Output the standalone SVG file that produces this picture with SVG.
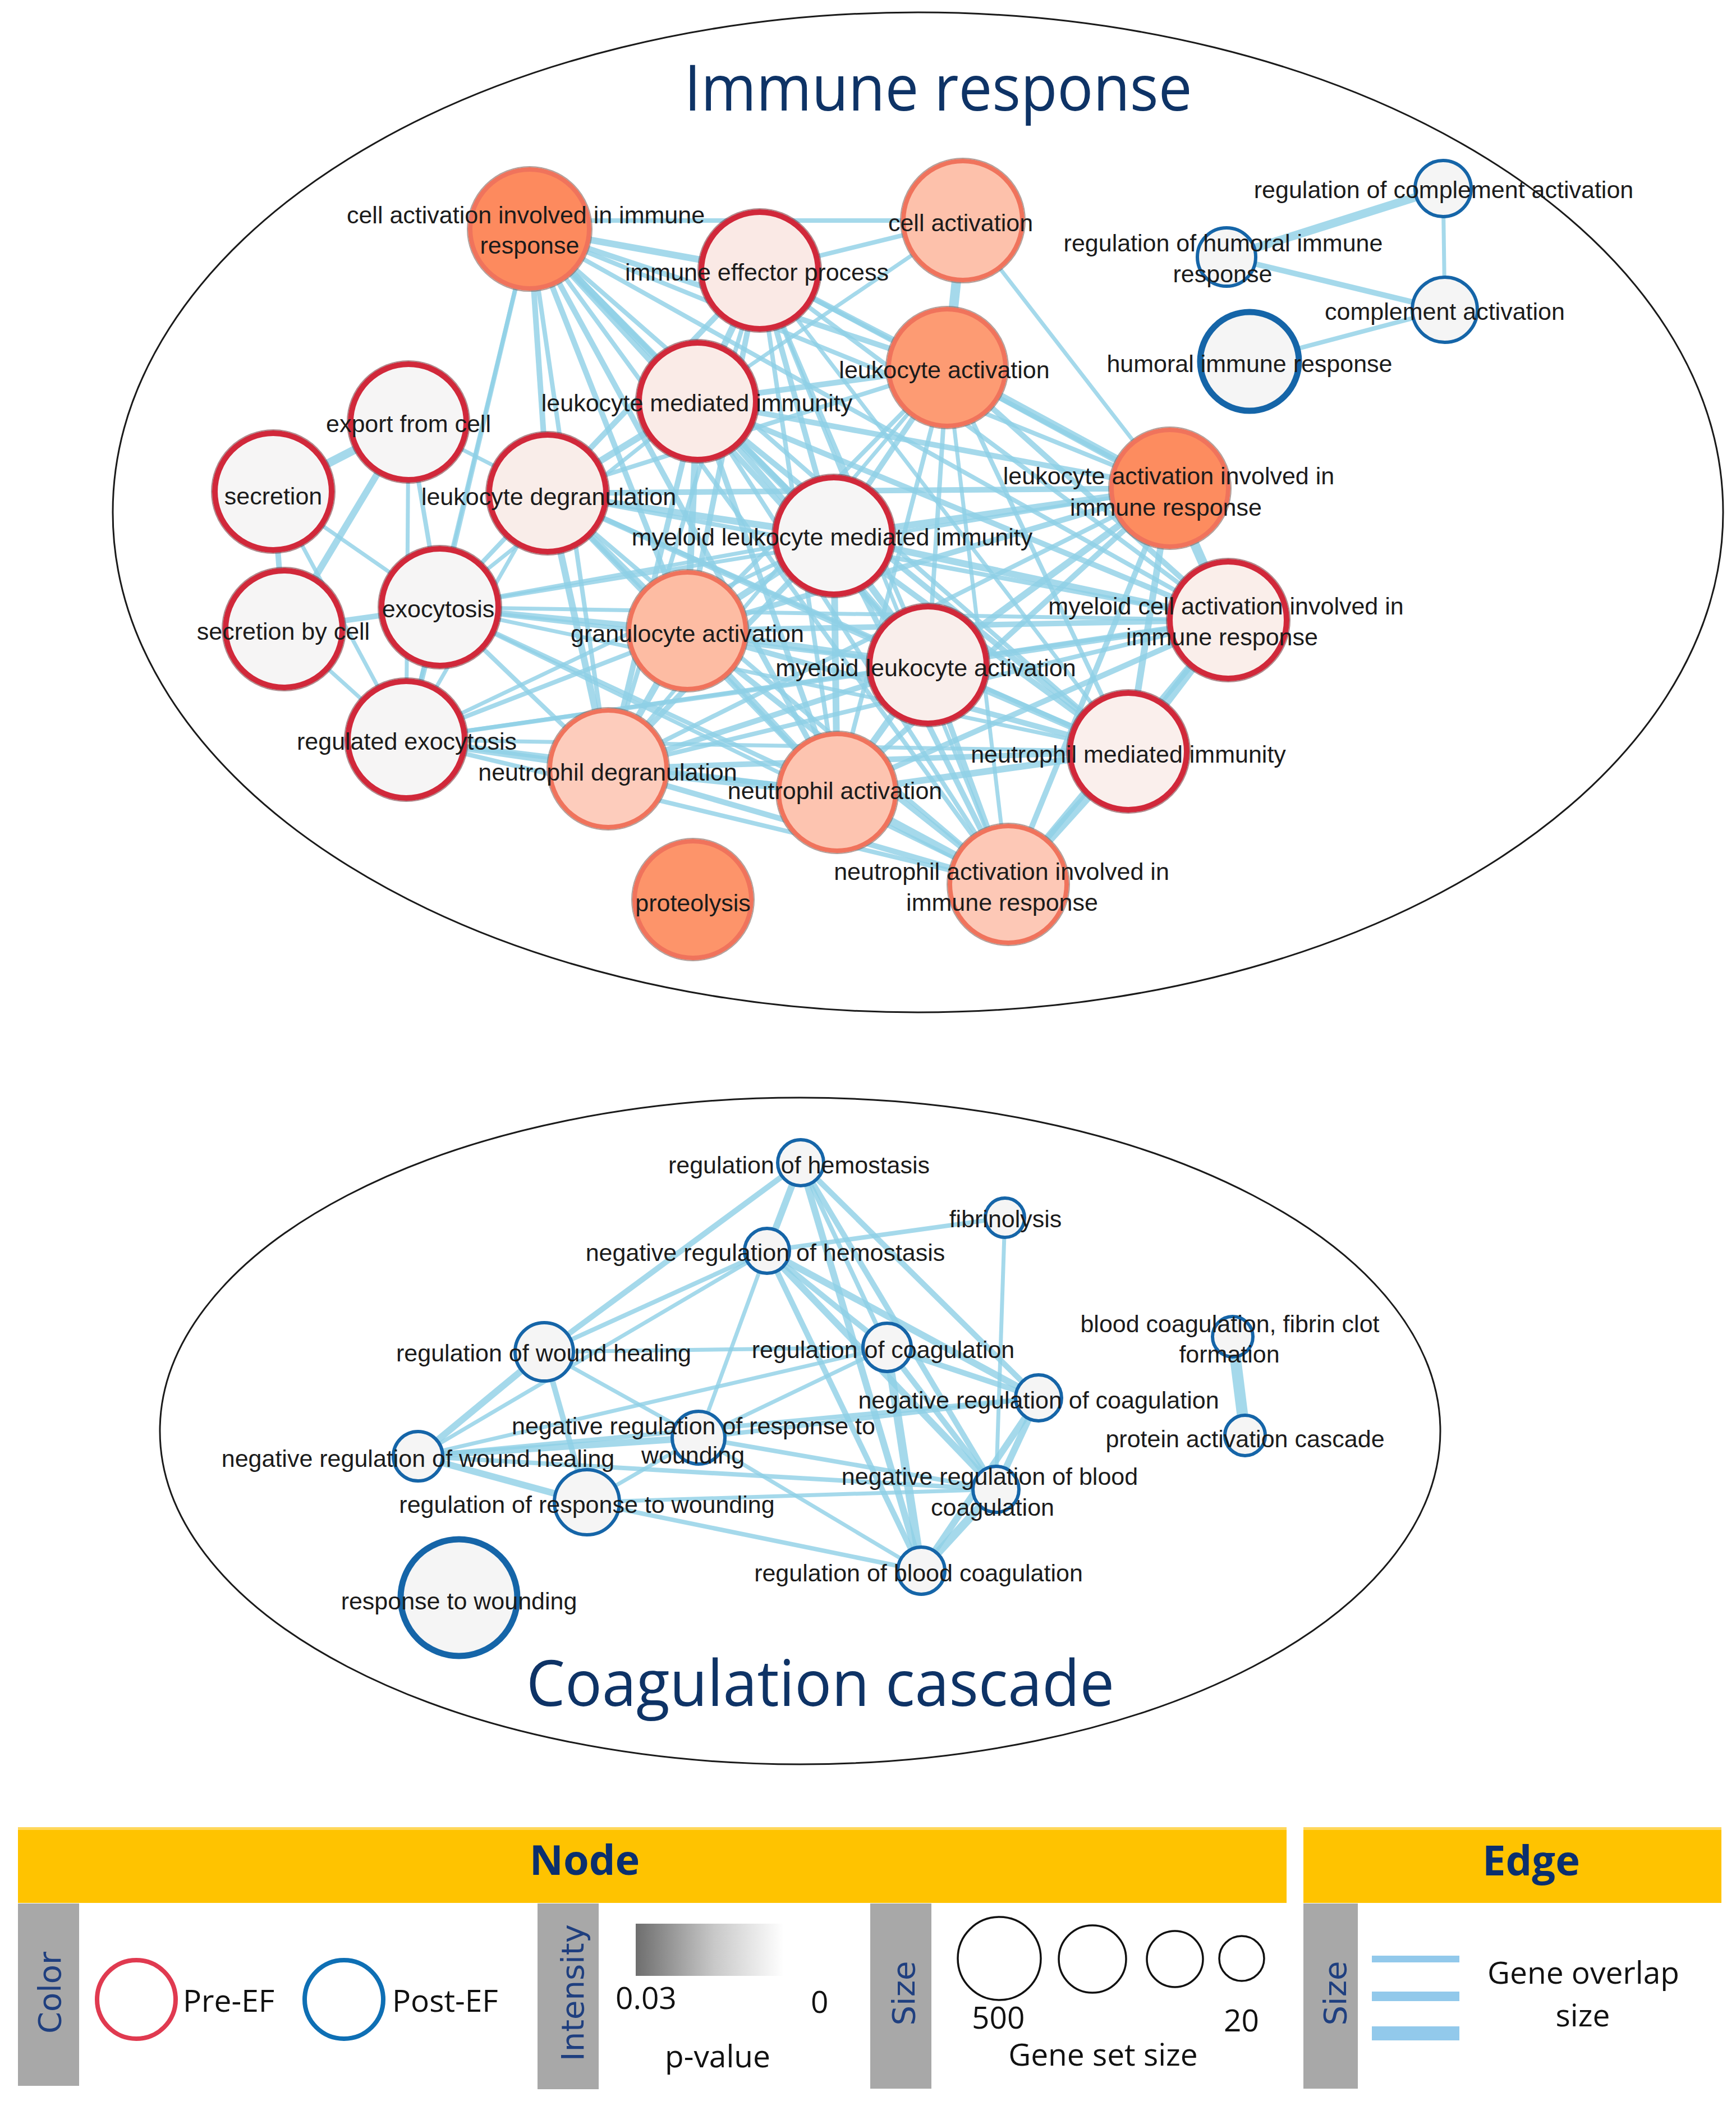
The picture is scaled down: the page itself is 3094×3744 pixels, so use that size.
<svg xmlns="http://www.w3.org/2000/svg" width="3094" height="3744" viewBox="0 0 3094 3744">
<style>
.bg{fill:#ffffff}
.grp{fill:none;stroke:#1a1a1a;stroke-width:3}
.title{font-family:"Open Sans","Liberation Sans",sans-serif;font-size:114px;fill:#0e3366;text-anchor:middle}
.lb{font-family:"Liberation Sans",Arial,sans-serif;font-size:43px;fill:#1b1b1b;text-anchor:middle}
.ed line{stroke:#8fd0e6;stroke-opacity:0.8;stroke-linecap:butt}
.w4{stroke-width:6}.w5{stroke-width:7}.w6{stroke-width:8}.w8{stroke-width:10}.w10{stroke-width:12}.w12{stroke-width:15}.w14{stroke-width:17}.w16{stroke-width:20}
.pre{stroke:#d1283a;stroke-width:10}
.org{stroke:#f0735c;stroke-width:8}
.post{stroke:#1565a8;stroke-width:6;fill:#f5f5f5}
.postb{stroke:#1565a8;stroke-width:11;fill:#f5f5f5}
.olr{fill:none;stroke:#6b2a30;stroke-width:2;stroke-opacity:0.55}
.olo{fill:none;stroke:#7d6058;stroke-width:2;stroke-opacity:0.6}
.yb{fill:#ffc300}
.yt{fill:#ffd75a}
.gb{fill:#a8a8a8}
.lh{font-family:"Open Sans","Liberation Sans",sans-serif;font-weight:bold;font-size:74px;fill:#0b2f6e;text-anchor:middle}
.vt{font-family:"DejaVu Sans",Verdana,sans-serif;font-size:56px;fill:#1f3f7f;text-anchor:middle}
.lt{font-family:"Open Sans","Liberation Sans",sans-serif;font-size:55px;fill:#111111}
.sz{fill:none;stroke:#111111;stroke-width:3.5}
.eb{fill:#92c9eb}
</style>
<defs>
<linearGradient id="pv" x1="0" y1="0" x2="1" y2="0">
<stop offset="0" stop-color="#6e6e6e"/>
<stop offset="0.45" stop-color="#c8c8c8"/>
<stop offset="0.85" stop-color="#ffffff"/>
</linearGradient>
</defs>
<rect class="bg" x="0" y="0" width="3094" height="3744"/>

<g id="groups">
<ellipse class="grp" cx="1636" cy="913" rx="1435" ry="891"/>
<ellipse class="grp" cx="1426" cy="2550" rx="1141" ry="594"/>
<text class="title" x="1672" y="197" textLength="905" lengthAdjust="spacingAndGlyphs">Immune response</text>
<text class="title" x="1462" y="3040" textLength="1048" lengthAdjust="spacingAndGlyphs">Coagulation cascade</text>
</g>

<g id="connectors" class="ed">
<line class="w10" x1="944" y1="408" x2="1354" y2="482"/>
<line class="w8" x1="944" y1="408" x2="1688" y2="655"/>
<line class="w10" x1="944" y1="408" x2="1243" y2="715"/>
<line class="w8" x1="944" y1="408" x2="976" y2="879"/>
<line class="w8" x1="944" y1="408" x2="1486" y2="955"/>
<line class="w6" x1="944" y1="408" x2="2085" y2="870"/>
<line class="w8" x1="944" y1="408" x2="1225" y2="1124"/>
<line class="w8" x1="944" y1="408" x2="1654" y2="1185"/>
<line class="w6" x1="944" y1="408" x2="2189" y2="1105"/>
<line class="w6" x1="944" y1="408" x2="1084" y2="1370"/>
<line class="w8" x1="944" y1="408" x2="1492" y2="1412"/>
<line class="w6" x1="944" y1="408" x2="2011" y2="1339"/>
<line class="w6" x1="944" y1="408" x2="1797" y2="1576"/>
<line class="w6" x1="944" y1="408" x2="784" y2="1082"/>
<line class="w5" x1="944" y1="408" x2="724" y2="1318"/>
<line class="w6" x1="944" y1="393" x2="1716" y2="393"/>
<line class="w8" x1="1354" y1="482" x2="1688" y2="655"/>
<line class="w10" x1="1354" y1="482" x2="1243" y2="715"/>
<line class="w8" x1="1354" y1="482" x2="976" y2="879"/>
<line class="w8" x1="1354" y1="482" x2="1486" y2="955"/>
<line class="w6" x1="1354" y1="482" x2="2085" y2="870"/>
<line class="w8" x1="1354" y1="482" x2="1225" y2="1124"/>
<line class="w6" x1="1354" y1="482" x2="1654" y2="1185"/>
<line class="w6" x1="1354" y1="482" x2="2189" y2="1105"/>
<line class="w6" x1="1354" y1="482" x2="1084" y2="1370"/>
<line class="w6" x1="1354" y1="482" x2="1492" y2="1412"/>
<line class="w5" x1="1354" y1="482" x2="2011" y2="1339"/>
<line class="w5" x1="1354" y1="482" x2="1797" y2="1576"/>
<line class="w6" x1="1354" y1="482" x2="1716" y2="393"/>
<line class="w14" x1="1716" y1="393" x2="1688" y2="655"/>
<line class="w5" x1="1716" y1="393" x2="2085" y2="870"/>
<line class="w5" x1="1716" y1="393" x2="1243" y2="715"/>
<line class="w8" x1="1688" y1="655" x2="1243" y2="715"/>
<line class="w6" x1="1688" y1="655" x2="976" y2="879"/>
<line class="w8" x1="1688" y1="655" x2="1486" y2="955"/>
<line class="w12" x1="1688" y1="655" x2="2085" y2="870"/>
<line class="w6" x1="1688" y1="655" x2="1225" y2="1124"/>
<line class="w6" x1="1688" y1="655" x2="1654" y2="1185"/>
<line class="w8" x1="1688" y1="655" x2="2189" y2="1105"/>
<line class="w5" x1="1688" y1="655" x2="1084" y2="1370"/>
<line class="w6" x1="1688" y1="655" x2="1492" y2="1412"/>
<line class="w6" x1="1688" y1="655" x2="2011" y2="1339"/>
<line class="w5" x1="1688" y1="655" x2="1797" y2="1576"/>
<line class="w10" x1="1243" y1="715" x2="976" y2="879"/>
<line class="w10" x1="1243" y1="715" x2="1486" y2="955"/>
<line class="w8" x1="1243" y1="715" x2="2085" y2="870"/>
<line class="w10" x1="1243" y1="715" x2="1225" y2="1124"/>
<line class="w8" x1="1243" y1="715" x2="1654" y2="1185"/>
<line class="w8" x1="1243" y1="715" x2="2189" y2="1105"/>
<line class="w8" x1="1243" y1="715" x2="1084" y2="1370"/>
<line class="w8" x1="1243" y1="715" x2="1492" y2="1412"/>
<line class="w8" x1="1243" y1="715" x2="2011" y2="1339"/>
<line class="w6" x1="1243" y1="715" x2="1797" y2="1576"/>
<line class="w5" x1="1243" y1="715" x2="784" y2="1082"/>
<line class="w10" x1="976" y1="879" x2="1486" y2="955"/>
<line class="w8" x1="976" y1="879" x2="2085" y2="870"/>
<line class="w10" x1="976" y1="879" x2="1225" y2="1124"/>
<line class="w8" x1="976" y1="879" x2="1654" y2="1185"/>
<line class="w6" x1="976" y1="879" x2="2189" y2="1105"/>
<line class="w10" x1="976" y1="879" x2="1084" y2="1370"/>
<line class="w8" x1="976" y1="879" x2="1492" y2="1412"/>
<line class="w6" x1="976" y1="879" x2="2011" y2="1339"/>
<line class="w6" x1="976" y1="879" x2="1797" y2="1576"/>
<line class="w6" x1="976" y1="879" x2="784" y2="1082"/>
<line class="w5" x1="976" y1="879" x2="724" y2="1318"/>
<line class="w5" x1="976" y1="879" x2="728" y2="752"/>
<line class="w10" x1="1486" y1="955" x2="2085" y2="870"/>
<line class="w10" x1="1486" y1="955" x2="1225" y2="1124"/>
<line class="w10" x1="1486" y1="955" x2="1654" y2="1185"/>
<line class="w10" x1="1486" y1="955" x2="2189" y2="1105"/>
<line class="w8" x1="1486" y1="955" x2="1084" y2="1370"/>
<line class="w10" x1="1486" y1="955" x2="1492" y2="1412"/>
<line class="w8" x1="1486" y1="955" x2="2011" y2="1339"/>
<line class="w8" x1="1486" y1="955" x2="1797" y2="1576"/>
<line class="w5" x1="1486" y1="955" x2="784" y2="1082"/>
<line class="w8" x1="2085" y1="870" x2="1225" y2="1124"/>
<line class="w10" x1="2085" y1="870" x2="1654" y2="1185"/>
<line class="w14" x1="2085" y1="870" x2="2189" y2="1105"/>
<line class="w6" x1="2085" y1="870" x2="1084" y2="1370"/>
<line class="w8" x1="2085" y1="870" x2="1492" y2="1412"/>
<line class="w10" x1="2085" y1="870" x2="2011" y2="1339"/>
<line class="w8" x1="2085" y1="870" x2="1797" y2="1576"/>
<line class="w5" x1="2085" y1="870" x2="784" y2="1082"/>
<line class="w10" x1="1225" y1="1124" x2="1654" y2="1185"/>
<line class="w8" x1="1225" y1="1124" x2="2189" y2="1105"/>
<line class="w10" x1="1225" y1="1124" x2="1084" y2="1370"/>
<line class="w10" x1="1225" y1="1124" x2="1492" y2="1412"/>
<line class="w8" x1="1225" y1="1124" x2="2011" y2="1339"/>
<line class="w8" x1="1225" y1="1124" x2="1797" y2="1576"/>
<line class="w8" x1="1225" y1="1124" x2="784" y2="1082"/>
<line class="w6" x1="1225" y1="1124" x2="724" y2="1318"/>
<line class="w10" x1="1654" y1="1185" x2="2189" y2="1105"/>
<line class="w8" x1="1654" y1="1185" x2="1084" y2="1370"/>
<line class="w10" x1="1654" y1="1185" x2="1492" y2="1412"/>
<line class="w10" x1="1654" y1="1185" x2="2011" y2="1339"/>
<line class="w8" x1="1654" y1="1185" x2="1797" y2="1576"/>
<line class="w6" x1="1654" y1="1185" x2="784" y2="1082"/>
<line class="w6" x1="1654" y1="1185" x2="724" y2="1318"/>
<line class="w6" x1="2189" y1="1105" x2="1084" y2="1370"/>
<line class="w8" x1="2189" y1="1105" x2="1492" y2="1412"/>
<line class="w14" x1="2189" y1="1105" x2="2011" y2="1339"/>
<line class="w10" x1="2189" y1="1105" x2="1797" y2="1576"/>
<line class="w5" x1="2189" y1="1105" x2="784" y2="1082"/>
<line class="w12" x1="1084" y1="1370" x2="1492" y2="1412"/>
<line class="w8" x1="1084" y1="1370" x2="2011" y2="1339"/>
<line class="w8" x1="1084" y1="1370" x2="1797" y2="1576"/>
<line class="w6" x1="1084" y1="1370" x2="784" y2="1082"/>
<line class="w10" x1="1084" y1="1370" x2="724" y2="1318"/>
<line class="w10" x1="1492" y1="1412" x2="2011" y2="1339"/>
<line class="w12" x1="1492" y1="1412" x2="1797" y2="1576"/>
<line class="w6" x1="1492" y1="1412" x2="784" y2="1082"/>
<line class="w8" x1="1492" y1="1412" x2="724" y2="1318"/>
<line class="w14" x1="2011" y1="1339" x2="1797" y2="1576"/>
<line class="w5" x1="2011" y1="1339" x2="724" y2="1318"/>
<line class="w6" x1="1797" y1="1576" x2="724" y2="1318"/>
<line class="w5" x1="1797" y1="1576" x2="784" y2="1082"/>
<line class="w5" x1="2011" y1="1339" x2="784" y2="1082"/>
<line class="w12" x1="487" y1="876" x2="728" y2="752"/>
<line class="w8" x1="487" y1="876" x2="506" y2="1121"/>
<line class="w5" x1="487" y1="876" x2="784" y2="1082"/>
<line class="w5" x1="487" y1="876" x2="724" y2="1318"/>
<line class="w10" x1="728" y1="752" x2="506" y2="1121"/>
<line class="w6" x1="728" y1="752" x2="784" y2="1082"/>
<line class="w5" x1="728" y1="752" x2="724" y2="1318"/>
<line class="w8" x1="506" y1="1121" x2="784" y2="1082"/>
<line class="w5" x1="506" y1="1121" x2="724" y2="1318"/>
<line class="w8" x1="784" y1="1082" x2="724" y2="1318"/>
<line class="w5" x1="724" y1="1318" x2="2189" y2="1105"/>
<line class="w5" x1="724" y1="1318" x2="1486" y2="955"/>
<line class="w12" x1="2572" y1="336" x2="2186" y2="458"/>
<line class="w5" x1="2572" y1="336" x2="2575" y2="552"/>
<line class="w8" x1="2186" y1="458" x2="2575" y2="552"/>
<line class="w6" x1="2575" y1="552" x2="2227" y2="644"/>
<line class="w10" x1="1427" y1="2072" x2="1367" y2="2229"/>
<line class="w8" x1="1427" y1="2072" x2="970" y2="2409"/>
<line class="w6" x1="1427" y1="2072" x2="1581" y2="2401"/>
<line class="w8" x1="1427" y1="2072" x2="1851" y2="2491"/>
<line class="w8" x1="1427" y1="2072" x2="1775" y2="2654"/>
<line class="w10" x1="1427" y1="2072" x2="1642" y2="2799"/>
<line class="w6" x1="1367" y1="2229" x2="1791" y2="2170"/>
<line class="w5" x1="1791" y1="2170" x2="1775" y2="2654"/>
<line class="w6" x1="1367" y1="2229" x2="970" y2="2409"/>
<line class="w5" x1="1367" y1="2229" x2="745" y2="2595"/>
<line class="w5" x1="1367" y1="2229" x2="1245" y2="2562"/>
<line class="w8" x1="1367" y1="2229" x2="1581" y2="2401"/>
<line class="w10" x1="1367" y1="2229" x2="1851" y2="2491"/>
<line class="w10" x1="1367" y1="2229" x2="1775" y2="2654"/>
<line class="w8" x1="1367" y1="2229" x2="1642" y2="2799"/>
<line class="w10" x1="970" y1="2409" x2="745" y2="2595"/>
<line class="w5" x1="970" y1="2409" x2="1581" y2="2401"/>
<line class="w5" x1="970" y1="2409" x2="1245" y2="2562"/>
<line class="w8" x1="970" y1="2409" x2="1046" y2="2677"/>
<line class="w10" x1="745" y1="2595" x2="1046" y2="2677"/>
<line class="w10" x1="745" y1="2595" x2="1245" y2="2562"/>
<line class="w5" x1="745" y1="2595" x2="1581" y2="2401"/>
<line class="w6" x1="745" y1="2595" x2="1851" y2="2491"/>
<line class="w6" x1="745" y1="2595" x2="1775" y2="2654"/>
<line class="w5" x1="1245" y1="2562" x2="1046" y2="2677"/>
<line class="w5" x1="1245" y1="2562" x2="1581" y2="2401"/>
<line class="w6" x1="1245" y1="2562" x2="1851" y2="2491"/>
<line class="w6" x1="1245" y1="2562" x2="1775" y2="2654"/>
<line class="w5" x1="1245" y1="2562" x2="1642" y2="2799"/>
<line class="w6" x1="1046" y1="2677" x2="1642" y2="2799"/>
<line class="w5" x1="1046" y1="2677" x2="1775" y2="2654"/>
<line class="w8" x1="1581" y1="2401" x2="1851" y2="2491"/>
<line class="w8" x1="1581" y1="2401" x2="1775" y2="2654"/>
<line class="w12" x1="1581" y1="2401" x2="1642" y2="2799"/>
<line class="w10" x1="1851" y1="2491" x2="1775" y2="2654"/>
<line class="w10" x1="1851" y1="2491" x2="1642" y2="2799"/>
<line class="w12" x1="1775" y1="2654" x2="1642" y2="2799"/>
<line class="w16" x1="2197" y1="2382" x2="2219" y2="2558"/>
</g>

<g id="nodes">
<g id="n-caiir"><circle cx="944" cy="408" r="106" fill="#fd8a5e" class="org"/><circle cx="944" cy="408" r="111" class="olo"/><text class="lb" x="937" y="398">cell activation involved in immune</text><text class="lb" x="944" y="452">response</text></g>
<g id="n-iep"><circle cx="1354" cy="482" r="104" fill="#fae9e5" class="pre"/><circle cx="1354" cy="482" r="110" class="olr"/><text class="lb" x="1349" y="500">immune effector process</text></g>
<g id="n-ca"><circle cx="1716" cy="393" r="106" fill="#fdc1ab" class="org"/><circle cx="1716" cy="393" r="111" class="olo"/><text class="lb" x="1712" y="412">cell activation</text></g>
<g id="n-la"><circle cx="1688" cy="655" r="104" fill="#fd9b73" class="org"/><circle cx="1688" cy="655" r="109" class="olo"/><text class="lb" x="1683" y="674">leukocyte activation</text></g>
<g id="n-lmi"><circle cx="1243" cy="715" r="104" fill="#faebe7" class="pre"/><circle cx="1243" cy="715" r="110" class="olr"/><text class="lb" x="1242" y="733">leukocyte mediated immunity</text></g>
<g id="n-efc"><circle cx="728" cy="752" r="103" fill="#f6f5f5" class="pre"/><circle cx="728" cy="752" r="109" class="olr"/><text class="lb" x="728" y="770">export from cell</text></g>
<g id="n-sec"><circle cx="487" cy="876" r="104" fill="#f6f5f5" class="pre"/><circle cx="487" cy="876" r="110" class="olr"/><text class="lb" x="487" y="899">secretion</text></g>
<g id="n-ld"><circle cx="976" cy="879" r="104" fill="#f9ede9" class="pre"/><circle cx="976" cy="879" r="110" class="olr"/><text class="lb" x="978" y="900">leukocyte degranulation</text></g>
<g id="n-mlmi"><circle cx="1486" cy="955" r="104" fill="#f6f5f5" class="pre"/><circle cx="1486" cy="955" r="110" class="olr"/><text class="lb" x="1483" y="972">myeloid leukocyte mediated immunity</text></g>
<g id="n-laiir"><circle cx="2085" cy="870" r="104" fill="#fd8c5f" class="org"/><circle cx="2085" cy="870" r="109" class="olo"/><text class="lb" x="2083" y="863">leukocyte activation involved in</text><text class="lb" x="2078" y="919">immune response</text></g>
<g id="n-sbc"><circle cx="506" cy="1121" r="104" fill="#f6f5f5" class="pre"/><circle cx="506" cy="1121" r="110" class="olr"/><text class="lb" x="505" y="1140">secretion by cell</text></g>
<g id="n-exo"><circle cx="784" cy="1082" r="104" fill="#f6f5f5" class="pre"/><circle cx="784" cy="1082" r="110" class="olr"/><text class="lb" x="781" y="1100">exocytosis</text></g>
<g id="n-ga"><circle cx="1225" cy="1124" r="104" fill="#fdbca3" class="org"/><circle cx="1225" cy="1124" r="109" class="olo"/><text class="lb" x="1225" y="1144">granulocyte activation</text></g>
<g id="n-mla"><circle cx="1654" cy="1185" r="104" fill="#f9eeeb" class="pre"/><circle cx="1654" cy="1185" r="110" class="olr"/><text class="lb" x="1650" y="1205">myeloid leukocyte activation</text></g>
<g id="n-mcaiir"><circle cx="2189" cy="1105" r="104" fill="#faeeea" class="pre"/><circle cx="2189" cy="1105" r="110" class="olr"/><text class="lb" x="2185" y="1095">myeloid cell activation involved in</text><text class="lb" x="2178" y="1150">immune response</text></g>
<g id="n-re"><circle cx="724" cy="1318" r="104" fill="#f6f5f5" class="pre"/><circle cx="724" cy="1318" r="110" class="olr"/><text class="lb" x="725" y="1336">regulated exocytosis</text></g>
<g id="n-nd"><circle cx="1084" cy="1370" r="104" fill="#fdccbc" class="org"/><circle cx="1084" cy="1370" r="109" class="olo"/><text class="lb" x="1083" y="1391">neutrophil degranulation</text></g>
<g id="n-na"><circle cx="1492" cy="1412" r="104" fill="#fdc4b0" class="org"/><circle cx="1492" cy="1412" r="109" class="olo"/><text class="lb" x="1488" y="1424">neutrophil activation</text></g>
<g id="n-nmi"><circle cx="2011" cy="1339" r="104" fill="#faefec" class="pre"/><circle cx="2011" cy="1339" r="110" class="olr"/><text class="lb" x="2011" y="1359">neutrophil mediated immunity</text></g>
<g id="n-naiir"><circle cx="1797" cy="1576" r="104" fill="#fdc8b6" class="org"/><circle cx="1797" cy="1576" r="109" class="olo"/><text class="lb" x="1785" y="1568">neutrophil activation involved in</text><text class="lb" x="1786" y="1623">immune response</text></g>
<g id="n-prot"><circle cx="1235" cy="1603" r="104" fill="#fd946a" class="org"/><circle cx="1235" cy="1603" r="109" class="olo"/><text class="lb" x="1235" y="1624">proteolysis</text></g>
<g id="n-rca"><circle cx="2572" cy="336" r="50" class="post"/><text class="lb" x="2573" y="353">regulation of complement activation</text></g>
<g id="n-rhir"><circle cx="2186" cy="458" r="52" class="post"/><text class="lb" x="2180" y="448">regulation of humoral immune</text><text class="lb" x="2179" y="503">response</text></g>
<g id="n-compa"><circle cx="2575" cy="552" r="58" class="post"/><text class="lb" x="2575" y="570">complement activation</text></g>
<g id="n-hir"><circle cx="2227" cy="644" r="88" class="postb"/><text class="lb" x="2227" y="663">humoral immune response</text></g>

<g id="n-rh"><circle cx="1427" cy="2072" r="41" class="post"/><text class="lb" x="1424" y="2091">regulation of hemostasis</text></g>
<g id="n-nrh"><circle cx="1367" cy="2229" r="40" class="post"/><text class="lb" x="1364" y="2247">negative regulation of hemostasis</text></g>
<g id="n-fib"><circle cx="1791" cy="2170" r="35" class="post"/><text class="lb" x="1792" y="2187">fibrinolysis</text></g>
<g id="n-rwh"><circle cx="970" cy="2409" r="52" class="post"/><text class="lb" x="969" y="2426">regulation of wound healing</text></g>
<g id="n-rc"><circle cx="1581" cy="2401" r="43" class="post"/><text class="lb" x="1574" y="2420">regulation of coagulation</text></g>
<g id="n-bcfcf"><circle cx="2197" cy="2382" r="36" class="post"/><text class="lb" x="2192" y="2374">blood coagulation, fibrin clot</text><text class="lb" x="2191" y="2428">formation</text></g>
<g id="n-nrc"><circle cx="1851" cy="2491" r="41" class="post"/><text class="lb" x="1851" y="2510">negative regulation of coagulation</text></g>
<g id="n-nrrw"><circle cx="1245" cy="2562" r="47" class="post"/><text class="lb" x="1236" y="2556">negative regulation of response to</text><text class="lb" x="1235" y="2608">wounding</text></g>
<g id="n-pac"><circle cx="2219" cy="2558" r="36" class="post"/><text class="lb" x="2219" y="2579">protein activation cascade</text></g>
<g id="n-nrwh"><circle cx="745" cy="2595" r="44" class="post"/><text class="lb" x="745" y="2614">negative regulation of wound healing</text></g>
<g id="n-nrbc"><circle cx="1775" cy="2654" r="41" class="post"/><text class="lb" x="1764" y="2646">negative regulation of blood</text><text class="lb" x="1769" y="2701">coagulation</text></g>
<g id="n-rrw"><circle cx="1046" cy="2677" r="58" class="post"/><text class="lb" x="1046" y="2696">regulation of response to wounding</text></g>
<g id="n-rbc"><circle cx="1642" cy="2799" r="42" class="post"/><text class="lb" x="1637" y="2818">regulation of blood coagulation</text></g>
<g id="n-rtw"><circle cx="818" cy="2847" r="104" class="postb"/><text class="lb" x="818" y="2868">response to wounding</text></g>
</g>

<g id="legend">
<rect class="yb" x="32" y="3256" width="2261" height="135"/>
<rect class="yt" x="32" y="3256" width="2261" height="5"/>
<rect class="yb" x="2323" y="3256" width="745" height="135"/>
<rect class="yt" x="2323" y="3256" width="745" height="5"/>
<text class="lh" x="1042" y="3341">Node</text>
<text class="lh" x="2729" y="3342">Edge</text>
<rect class="gb" x="32" y="3392" width="109" height="325"/>
<rect class="gb" x="958" y="3392" width="109" height="331"/>
<rect class="gb" x="1551" y="3392" width="109" height="330"/>
<rect class="gb" x="2323" y="3392" width="97" height="330"/>
<text class="vt" transform="translate(108,3551) rotate(-90)">Color</text>
<text class="vt" transform="translate(1040,3551) rotate(-90)">Intensity</text>
<text class="vt" transform="translate(1630,3552) rotate(-90)">Size</text>
<text class="vt" transform="translate(2399,3552) rotate(-90)">Size</text>
<circle cx="243" cy="3563" r="70" fill="none" stroke="#e03a50" stroke-width="8"/>
<text class="lt" x="326" y="3585">Pre-EF</text>
<circle cx="613" cy="3563" r="70" fill="none" stroke="#0e6fb4" stroke-width="8"/>
<text class="lt" x="699" y="3585">Post-EF</text>
<rect x="1133" y="3428" width="310" height="93" fill="url(#pv)"/>
<text class="lt" x="1097" y="3580">0.03</text>
<text class="lt" x="1445" y="3587">0</text>
<text class="lt" x="1279" y="3684" text-anchor="middle">p-value</text>
<circle cx="1781" cy="3490" r="74" class="sz"/>
<circle cx="1947" cy="3491" r="60" class="sz"/>
<circle cx="2094" cy="3491" r="50" class="sz"/>
<circle cx="2213" cy="3490" r="40" class="sz"/>
<text class="lt" x="1732" y="3615">500</text>
<text class="lt" x="2181" y="3620">20</text>
<text class="lt" x="1966" y="3681" text-anchor="middle">Gene set size</text>
<rect class="eb" x="2445" y="3485" width="156" height="12"/>
<rect class="eb" x="2445" y="3549" width="156" height="17"/>
<rect class="eb" x="2445" y="3611" width="156" height="25"/>
<text class="lt" x="2822" y="3535" text-anchor="middle">Gene overlap</text>
<text class="lt" x="2821" y="3611" text-anchor="middle">size</text>
</g>
</svg>
